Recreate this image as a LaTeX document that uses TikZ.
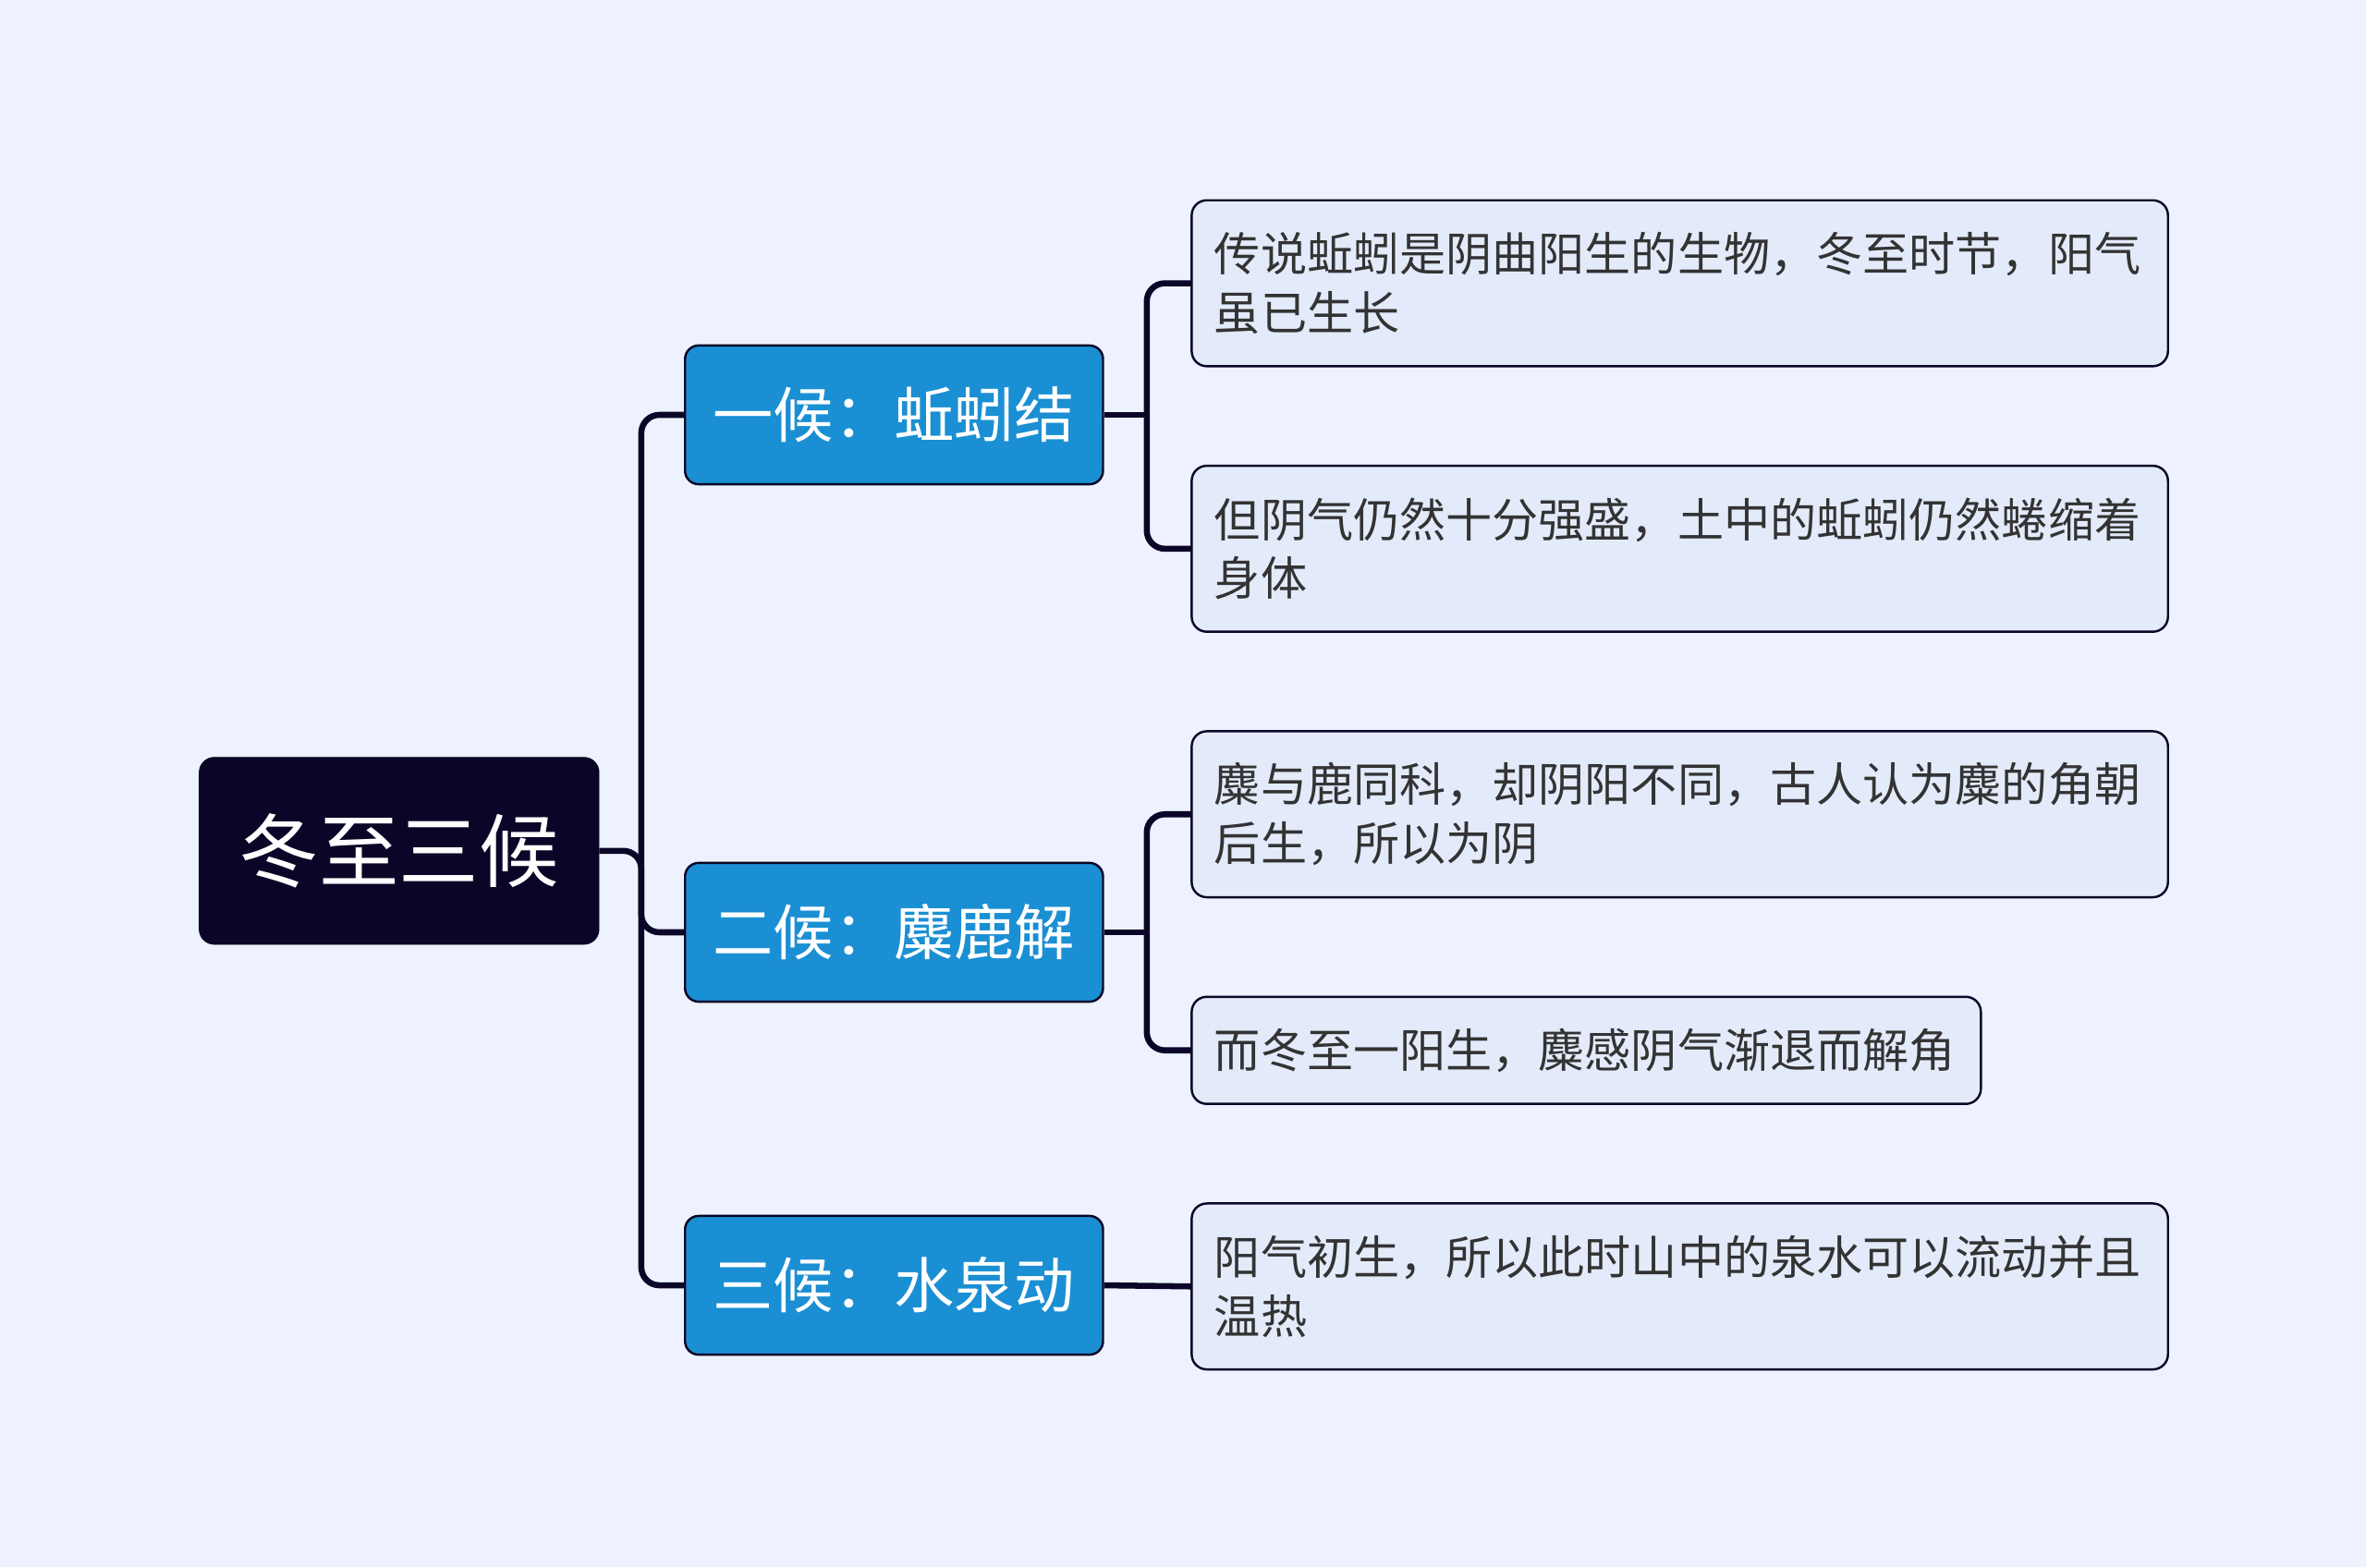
\documentclass[tikz,border=0pt]{standalone}
\usepackage{fontspec}
\setmainfont{Noto Sans CJK SC}
\begin{document}
\begin{tikzpicture}[x=1pt,y=-1pt,
  conn/.style={draw=rootc,line width=4pt,rounded corners=12pt},
  rootbox/.style={fill=rootc,draw=rootc,rounded corners=10pt,minimum width=265pt,minimum height=124pt,text=white,font=\fontsize{53}{60}\selectfont},
  midbox/.style={fill=midc,draw=rootc,line width=1.5pt,rounded corners=9pt,minimum width=277pt,minimum height=92pt,text=white,font=\fontsize{40}{44}\selectfont},
  leafbox/.style={fill=leafc,draw=rootc,line width=1.5pt,rounded corners=10pt,anchor=north west,text=textc,align=left,inner xsep=15pt,font=\fontsize{30.7}{39}\selectfont},
]
\definecolor{rootc}{HTML}{0B0627}
\definecolor{midc}{HTML}{1B8FD3}
\definecolor{leafc}{HTML}{E3EBFB}
\definecolor{bgc}{HTML}{EDF2FE}
\definecolor{textc}{HTML}{333333}
\fill[bgc] (0,0) rectangle (1568,1039);
\useasboundingbox (0,0) rectangle (1568,1039);
\node[rootbox] (root) at (264.5,564) {冬至三候};
\node[midbox] (m1) at (592.5,275) {一候：蚯蚓结};
\node[midbox] (m2) at (592.5,618) {二候：麋鹿解};
\node[midbox] (m3) at (592.5,852) {三候：水泉动};
\node[leafbox,text width=617pt,minimum height=110pt] (l1) at (789,132) {传说蚯蚓是阴曲阳生的生物，冬至时节，阳气\\虽已生长};
\node[leafbox,text width=617pt,minimum height=110pt] (l2) at (789,308) {但阴气仍然十分强盛，土中的蚯蚓仍然蜷缩着\\身体};
\node[leafbox,text width=617pt,minimum height=110pt] (l3) at (789,484) {麋与鹿同科，却阴阳不同，古人认为麋的角朝\\后生，所以为阴};
\node[leafbox,text width=493pt,minimum height=71pt] (l4) at (789,660) {而冬至一阳生，麋感阴气渐退而解角};
\node[leafbox,text width=617pt,minimum height=110pt] (l5) at (789,797) {阳气初生，所以此时山中的泉水可以流动并且\\温热};
\coordinate (rj) at (425,564);
\coordinate (j1) at (760,275);
\coordinate (j2) at (760,618);
\draw[conn] (m1.west) -| (rj) |- (m3.west);
\draw[conn] (root.east) -- (rj) |- (m2.west);
\draw[conn] (l1.west) -| (j1) |- (l2.west);
\draw[conn] (m1.east) -- (j1);
\draw[conn] (l3.west) -| (j2) |- (l4.west);
\draw[conn] (m2.east) -- (j2);
\draw[conn] (m3.east) -- (l5.west);
\end{tikzpicture}
\end{document}
